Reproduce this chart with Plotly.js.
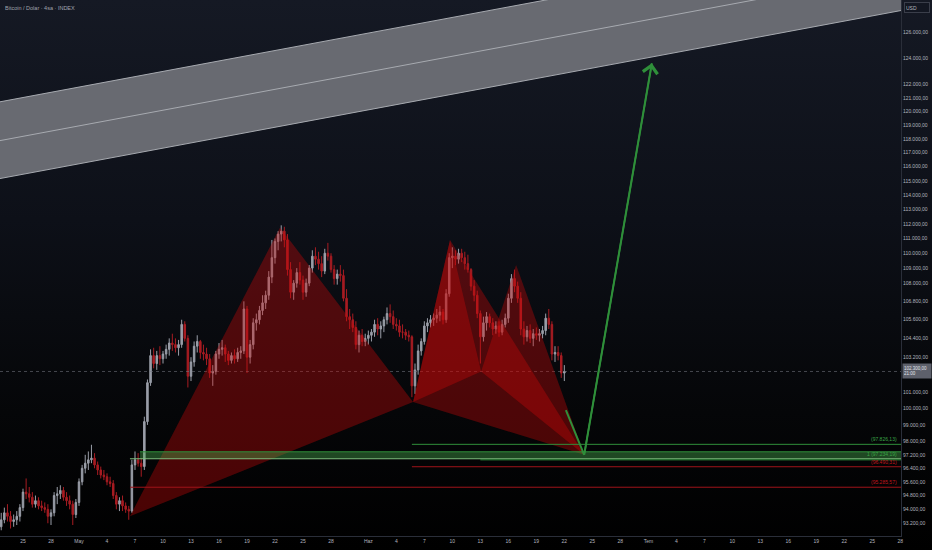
<!DOCTYPE html>
<html><head><meta charset="utf-8">
<script src="https://cdn.plot.ly/plotly-3.0.1.min.js"></script>
<style>
html,body{margin:0;padding:0;width:932px;height:550px;overflow:hidden;
background:linear-gradient(180deg,#151924 0%,#0d1018 40%,#050608 75%,#000 100%);}
#chart{width:932px;height:550px;}
</style></head><body><div id="chart"></div>
<script>
// ---- candles (8h bars) ----
const candleStart = '2025-04-22T16:00:00Z';
const candleHours = 8;
const open = [
93000, 93400,93800,93600, 93300,93400,93600, 94100,95000,94900, 94700,94300,94500, 94200,94100,94000,
93600,93800,94800, 94900,95100,94700, 94500,94300,93700, 94400,95600,96400, 96700,96900,97000,
96600,96300,96000, 95900,95600,95500, 94800,94300,94500, 94200,94000,93900, 96600,96900,96700, 96500,99200,101600,
103300,102800,103300, 103100,103400,103700, 104100,104000,103800, 104000,105300,104400, 102000,102900,103900,
104200,103500,103400, 103100,102200,102300, 103400,103700,103800, 103400,103000,103300, 103100,103500,103600,
106300,103200,104000, 105400,105600,106200, 106700,107200,108400, 109700,110800,111300, 111500,110900,108900,
107400,108000,108700, 108200,107400,108000, 109000,109800,109600, 109300,108800,110000, 109800,108900,108300,
108600,108500,107000, 105800,105600,105100, 104000,104600,104200, 104400,104600,104800, 105300,105000,105200,
105600,106000,105800, 105300,105200,104800, 104800,104600,104500, 101400,102400,103600, 104200,105200,105400,
105600,105700,105900, 106100,105600,107300, 109700,109800,109600, 110000,109700,109300, 108900,107800,107200,
106000,104500,105400, 105800,105400,105000, 105200,104800,105300, 105700,107000,108300, 107800,107000,105000,
104500,104900,104400, 104700,104600,104700, 104900,105700,105300, 103400,103500,103300, 102200];
const high = [
93800, 94100,94300,93900, 93700,93900,94300, 95200,95800,95300, 95000,94800,94700, 94500,94400,94300,
94000,95000,95300, 95400,95300,95000, 94800,94500,94600, 95800,96600,97200, 97400,97800,97300,
96800,96500,96300, 96100,95900,95700, 95000,94700,94800, 94400,94200,96900, 97400,97300,97000, 99500,101800,103700,
103800,103600,103900, 103600,104000,104400, 104700,104400,104300, 105600,105500,104600, 103200,104200,104600,
104300,104000,103800, 103400,102700,103600, 104100,104300,104000, 103600,103500,103700, 103800,103900,106800,
106500,104300,105700, 106000,106500,107200, 107500,108800,110900, 111000,111500,111900, 111800,111300,109400,
108200,109000,109400, 108500,108300,109200, 110200,110400,110100, 109800,110300,110700, 110000,109200,108900,
109200,108900,107600, 106300,106000,105500, 104900,105000,104700, 104900,105000,105600, 105700,105500,105800,
106400,106600,106200, 105700,105600,105300, 105000,104900,104600, 102800,104000,104400, 105500,105700,105900,
106000,106300,106500, 106300,107600,110000, 110400,110200,110300, 110300,110100,109900, 109000,108200,107500,
106200,105800,106100, 106000,105700,105500, 105500,105600,106000, 107300,108600,108900, 108100,107400,105500,
105200,105300,105000, 105100,105000,105200, 106000,106300,105500, 103900,103900,103500, 102700];
const low = [
92800, 93200,93300,92900, 93000,93100,93300, 93900,94600,94400, 94100,94100,94000, 93900,93800,93200,
93100,93600,94300, 94600,94500,94200, 94000,93100,93500, 94200,95400,96100, 96300,96700,96400,
96000,95800,95700, 95400,95300,94600, 94000,93900,93900, 93800,93400,93800, 96300,96500,95900, 96300,99000,101400,
102500,102400,102700, 102800,103100,103300, 103600,103500,103300, 103800,104200,101300, 101700,102600,103500,
103100,103000,102700, 101900,101400,102100, 103100,103300,102900, 102700,102800,102800, 102900,103100,103400,
102200,102800,103700, 104900,105300,105900, 106300,106900,108000, 109300,110200,110800, 110400,108500,107000,
106900,107700,107900, 106900,107100,107800, 108700,109200,108900, 108400,108600,109500, 108700,107900,107900,
108100,106800,105500, 105000,104800,103700, 103500,103900,103900, 104000,104200,104500, 104600,104400,104800,
105300,105400,105000, 104900,104500,104400, 104300,104200,100700, 100900,102100,103300, 104000,104800,105100,
105200,105400,105500, 105300,105400,107100, 109000,109200,109300, 109400,108900,108700, 107500,106800,105700,
102800,104200,104900, 105100,104600,104700, 104500,104600,105100, 105400,106700,107400, 106700,104600,104000,
104200,104100,103900, 104300,104200,104400, 104600,105000,103000, 102900,103000,101900, 101700];
const close = [
93400, 93800,93600,93300, 93400,93600,94100, 95000,94900,94700, 94300,94500,94200, 94100,94000,93600,
93800,94800,94900, 95100,94700,94500, 94300,93700,94400, 95600,96400,96700, 96900,97000,96600,
96300,96000,95900, 95600,95500,94800, 94300,94500,94200, 94000,93900,96600, 96900,96700,96500, 99200,101600,103300,
102800,103300,103100, 103400,103700,104100, 104000,103800,104000, 105300,104400,102000, 102900,103900,104200,
103500,103400,103100, 102200,102300,103400, 103700,103800,103400, 103000,103300,103100, 103500,103600,106300,
103200,104000,105400, 105600,106200,106700, 107200,108400,109700, 110800,111300,111500, 110900,108900,107400,
108000,108700,108200, 107400,108000,109000, 109800,109600,109300, 108800,110000,109800, 108900,108300,108600,
108500,107000,105800, 105600,105100,104000, 104600,104200,104400, 104600,104800,105300, 105000,105200,105600,
106000,105800,105300, 105200,104800,104800, 104600,104500,101400, 102400,103600,104200, 105200,105400,105600,
105700,105900,106100, 105600,107300,109700, 109800,109600,110000, 109700,109300,108900, 107800,107200,106000,
104500,105400,105800, 105400,105000,105200, 104800,105300,105700, 107000,108300,107800, 107000,105000,104500,
104900,104400,104700, 104600,104700,104900, 105700,105300,103400, 103500,103300,102200, 102300];

// ---- axes ----
const xRange = ['2025-04-22 12:52', '2025-07-28 01:40'];
const yRangePrice = [92475, 128495];
const xTickDates = ['2025-04-25','2025-04-28','2025-05-01','2025-05-04','2025-05-07','2025-05-10','2025-05-13','2025-05-16',
 '2025-05-19','2025-05-22','2025-05-25','2025-05-28','2025-06-01','2025-06-04','2025-06-07','2025-06-10','2025-06-13',
 '2025-06-16','2025-06-19','2025-06-22','2025-06-25','2025-06-28','2025-07-01','2025-07-04','2025-07-07','2025-07-10',
 '2025-07-13','2025-07-16','2025-07-19','2025-07-22','2025-07-25','2025-07-28'];
const xTickText = ['25','28','May','4','7','10','13','16','19','22','25','28','Haz','4','7','10','13','16','19','22','25','28',
 'Tem','4','7','10','13','16','19','22','25','28'];
const yTickVals = [126000,124000,122000,121000,120000,119000,118000,117000,116000,115000,114000,113000,112000,111000,
 110000,109000,108000,106800,105600,104400,103200,101000,100000,99000,98000,97200,96400,95600,94800,94000,93200];
const yTickText = yTickVals.map(v => v.toLocaleString('de-DE') + ',00');

// ---- drawings (anchor points: date, price) ----
const channelDates = ['2025-04-20', '2025-08-01'];
const channelTop = [120384, 134393];
const channelMid = [117552, 131226];
const channelBottom = [114848, 128205];

const patX = ['2025-05-06 11:00', 93600];
const patA = ['2025-05-22 13:00', 111750];
const patB = ['2025-06-05 19:00', 100400];
const patC = ['2025-06-09 18:00', 110900];
const patDp = ['2025-06-13 02:00', 102300];
const patE = ['2025-06-16 20:00', 109200];
const patD = ['2025-06-24 03:00', 97200];
const dropStart = ['2025-06-22 04:00', 99900];
const arrowTip = ['2025-07-01 09:00', 123600];

const redLevel1 = 95285.57, redLevel1Start = '2025-05-06 11:00';
const bandTop = 97380, bandBottom = 96963, bandStart = '2025-05-07 13:00', bandLineStart = '2025-05-06 11:00';
const greenLevel = 97826.13, redLevel2 = 96490.31, levelsStart = '2025-06-05 16:00';
const greenLevel2 = 96900, greenLevel2Start = '2025-06-13 00:00';
const lastPrice = 102300;

const t0 = Date.parse(candleStart);
const times = open.map((_, i) => new Date(t0 + i * candleHours * 3600e3).toISOString().slice(0, 16).replace('T', ' '));

const RED_FILL = 'rgba(205,8,8,0.36)';
const GREEN = '#2f8f3a';
const traces = [];

// channel
traces.push({x:[channelDates[0],channelDates[1],channelDates[1],channelDates[0]], y:[channelTop[0],channelTop[1],channelBottom[1],channelBottom[0]],
  type:'scatter', mode:'lines', fill:'toself', fillcolor:'#686a71', line:{width:0}});
[channelTop, channelMid, channelBottom].forEach(c => traces.push({x:channelDates, y:c, type:'scatter', mode:'lines', line:{color:'#a7aab0', width:1}}));

// current price line
traces.push({x:xRange, y:[lastPrice,lastPrice], type:'scatter', mode:'lines', line:{color:'rgba(120,123,134,0.55)', width:1, dash:'dot'}});

// candles
traces.push({type:'candlestick', x:times, open:open, high:high, low:low, close:close, whiskerwidth:0,
  increasing:{line:{color:'#9a9ea8', width:1}, fillcolor:'#9a9ea8'},
  decreasing:{line:{color:'#a81c22', width:1}, fillcolor:'#a81c22'}});

// harmonic pattern triangles
const tri = (p, q, r) => ({x:[p[0],q[0],r[0],p[0]], y:[p[1],q[1],r[1],p[1]], type:'scatter', mode:'lines', fill:'toself', fillcolor:RED_FILL, line:{width:0}});
traces.push(tri(patX, patA, patB));
traces.push(tri(patB, patC, patD));
traces.push(tri(patB, patC, patDp));
traces.push(tri(patDp, patE, patD));

// levels
traces.push({x:[bandStart, xRange[1], xRange[1], bandStart], y:[bandTop, bandTop, bandBottom, bandBottom], type:'scatter', mode:'lines', fill:'toself', fillcolor:'rgba(76,175,80,0.40)', line:{width:0}});
traces.push({x:[bandStart, xRange[1]], y:[bandTop, bandTop], type:'scatter', mode:'lines', line:{color:GREEN, width:1}});
traces.push({x:[bandLineStart, xRange[1]], y:[bandBottom, bandBottom], type:'scatter', mode:'lines', line:{color:'#7fbf7f', width:1}});
traces.push({x:[levelsStart, xRange[1]], y:[greenLevel, greenLevel], type:'scatter', mode:'lines', line:{color:GREEN, width:1}});
traces.push({x:[greenLevel2Start, xRange[1]], y:[greenLevel2, greenLevel2], type:'scatter', mode:'lines', line:{color:GREEN, width:1}});
traces.push({x:[levelsStart, xRange[1]], y:[redLevel2, redLevel2], type:'scatter', mode:'lines', line:{color:'#a0141a', width:1}});
traces.push({x:[redLevel1Start, xRange[1]], y:[redLevel1, redLevel1], type:'scatter', mode:'lines', line:{color:'#a0141a', width:1}});

// projection lines
traces.push({x:[dropStart[0], patD[0]], y:[dropStart[1], patD[1]], type:'scatter', mode:'lines', line:{color:GREEN, width:2}});
traces.push({x:[patD[0], arrowTip[0]], y:[patD[1], arrowTip[1]], type:'scatter', mode:'lines', line:{color:GREEN, width:2}});

const fmt = v => '(' + v.toLocaleString('de-DE', {minimumFractionDigits:2, maximumFractionDigits:2}) + ')';
const lvlLabel = (price, text, color) => ({xref:'paper', x:1, xanchor:'right', xshift:-2, yref:'y', y:Math.log10(price), yanchor:'bottom',
  text:text, showarrow:false, font:{size:5, color:color, family:'Liberation Sans Narrow, Arial Narrow, sans-serif'}});

const annotations = [
  {xref:'paper', yref:'paper', x:0, y:1, xshift:3, yshift:-3, xanchor:'left', yanchor:'top', showarrow:false,
   text:'Bitcoin / Dolar · 4sa · INDEX', font:{size:5.5, color:'#a0a4ad', family:'Liberation Sans Narrow, Arial Narrow, sans-serif'}},
  {xref:'paper', yref:'paper', x:1, y:1, xshift:3, yshift:-2, xanchor:'left', yanchor:'top', showarrow:false, text:'USD',
   bgcolor:'#131722', bordercolor:'#3a3e4a', borderwidth:1, width:22, height:7, align:'left',
   font:{size:5, color:'#b2b5be', family:'Liberation Sans Narrow, Arial Narrow, sans-serif'}},
  {xref:'paper', yref:'y', x:1, y:Math.log10(lastPrice), xshift:1, xanchor:'left', yanchor:'middle', showarrow:false,
   text:'102.300,00<br>21:00', bgcolor:'#5d606b', width:26, height:12, align:'left',
   font:{size:4.5, color:'#e0e3eb', family:'Liberation Sans Narrow, Arial Narrow, sans-serif'}},
  lvlLabel(greenLevel, fmt(greenLevel), '#3aa447'),
  lvlLabel(bandBottom, '1 ' + fmt(97234.19), '#3aa447'),
  lvlLabel(redLevel2, fmt(redLevel2), '#c0141c'),
  lvlLabel(redLevel1, fmt(redLevel1), '#c0141c'),
  {x:arrowTip[0], y:Math.log10(arrowTip[1]), xref:'x', yref:'y', ax:patD[0], ay:Math.log10(patD[1]), axref:'x', ayref:'y',
   text:'', showarrow:true, arrowhead:4, arrowsize:1.8, arrowwidth:1.6, arrowcolor:GREEN, standoff:0}
];

const tickFont = {size:5, color:'#b2b5be', family:'Liberation Sans Narrow, Arial Narrow, sans-serif'};
const layout = {
  width:932, height:550, margin:{l:0, r:31, t:0, b:14, pad:0},
  paper_bgcolor:'rgba(0,0,0,0)', plot_bgcolor:'rgba(0,0,0,0)',
  showlegend:false, hovermode:false, dragmode:false,
  xaxis:{type:'date', range:xRange, showgrid:false, zeroline:false, rangeslider:{visible:false},
    tickmode:'array', tickvals:xTickDates, ticktext:xTickText, tickfont:tickFont, ticks:'', showline:true, linecolor:'#2a2e39', linewidth:1},
  yaxis:{type:'log', side:'right', range:[Math.log10(yRangePrice[0]), Math.log10(yRangePrice[1])], showgrid:false, zeroline:false,
    tickmode:'array', tickvals:yTickVals, ticktext:yTickText, tickfont:tickFont, ticks:'', showline:true, linecolor:'#2a2e39', linewidth:1},
  annotations:annotations
};
Plotly.newPlot('chart', traces, layout, {staticPlot:true, displayModeBar:false});
</script></body></html>
